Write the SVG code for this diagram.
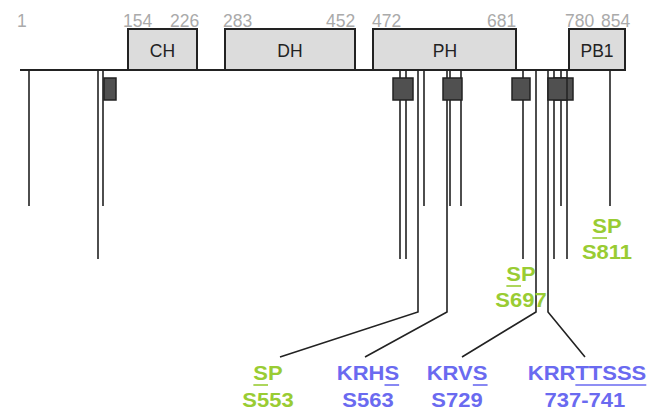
<svg xmlns="http://www.w3.org/2000/svg" width="656" height="412" viewBox="0 0 656 412">
<style>
.num{font-family:"Liberation Sans",Arial,sans-serif;font-size:17.5px;fill:#aaaaaa}
.dom{fill:#dcdcdc;stroke:#222;stroke-width:2}
.dl{font-family:"Liberation Sans",Arial,sans-serif;font-size:17.5px;fill:#222;text-anchor:middle}
.ln{stroke:#222;stroke-width:1.6;fill:none}
.sq{fill:#505050;stroke:#222;stroke-width:1.5}
.lab{font-family:"Liberation Sans",Arial,sans-serif;font-size:20px;font-weight:bold;text-anchor:middle}
.g{fill:#99cc33}
.b{fill:#6a6af0}
.ug{stroke:#99cc33;stroke-width:1.6}
.ub{stroke:#6a6af0;stroke-width:1.6}
</style>
<rect width="656" height="412" fill="#fff"/>
<g id="numbers">
<text class="num" x="17" y="27">1</text>
<text class="num" x="123" y="27">154</text>
<text class="num" x="170" y="27">226</text>
<text class="num" x="223" y="27">283</text>
<text class="num" x="326" y="27">452</text>
<text class="num" x="372" y="27">472</text>
<text class="num" x="487" y="27">681</text>
<text class="num" x="565" y="27">780</text>
<text class="num" x="601" y="27">854</text>
</g>
<g id="dom-CH"><rect class="dom" x="128" y="29" width="69" height="41"/><text class="dl" x="162.5" y="57">CH</text></g>
<g id="dom-DH"><rect class="dom" x="225" y="29" width="130" height="41"/><text class="dl" x="290" y="57">DH</text></g>
<g id="dom-PH"><rect class="dom" x="373" y="29" width="143" height="41"/><text class="dl" x="445" y="57">PH</text></g>
<g id="dom-PB1"><rect class="dom" x="569" y="29" width="56" height="41"/><text class="dl" x="597" y="57">PB1</text></g>
<g id="connectors">
<line x1="20" y1="70" x2="626" y2="70" stroke="#222" stroke-width="2.2"/>
<path class="ln" d="M29 70V206M98 70V259M103 70V206M400 70V259M406 70V259M424 70V206M450 70V206M461 70V206M523 70V259M554 70V259M561 70V206M567 70V259M610 70V206"/>
<path class="ln" d="M418 70V312L280 357M447 70V312L365 357M536 70V312L462 357M548 70V312L585 357"/>
</g>
<g id="sites">
<rect class="sq" x="104" y="78" width="12" height="22"/>
<rect class="sq" x="393" y="78" width="20" height="22"/>
<rect class="sq" x="443" y="78" width="19" height="22"/>
<rect class="sq" x="512" y="78" width="18" height="22"/>
<rect class="sq" x="554" y="78" width="19" height="22"/>
<rect class="sq" x="548" y="78" width="19" height="22"/>
</g>
<g id="lab-S811" transform="translate(607,0) scale(1.1,1)">
<text class="lab g" x="0" y="233">SP</text><line class="ug" x1="-13.3" y1="238" x2="0" y2="238"/>
<text class="lab g" x="0" y="259">S811</text>
</g>
<g id="lab-S697" transform="translate(521,0) scale(1.1,1)">
<text class="lab g" x="0" y="281">SP</text><line class="ug" x1="-13.3" y1="286" x2="0" y2="286"/>
<text class="lab g" x="0" y="307">S697</text>
</g>
<g id="lab-S553" transform="translate(268,0) scale(1.1,1)">
<text class="lab g" x="0" y="380">SP</text><line class="ug" x1="-13.3" y1="385" x2="0" y2="385"/>
<text class="lab g" x="0" y="407">S553</text>
</g>
<g id="lab-S563" transform="translate(368,0) scale(1.1,1)">
<text class="lab b" x="0" y="380">KRHS</text><line class="ub" x1="15" y1="385" x2="28.3" y2="385"/>
<text class="lab b" x="0" y="407">S563</text>
</g>
<g id="lab-S729" transform="translate(457,0) scale(1.1,1)">
<text class="lab b" x="0" y="380">KRVS</text><line class="ub" x1="14.4" y1="385" x2="27.8" y2="385"/>
<text class="lab b" x="0" y="407">S729</text>
</g>
<g id="lab-737-741" transform="translate(587,0) scale(1.1,1)">
<text class="lab b" x="0" y="380">KRRTTSSS</text><line class="ub" x1="-10.6" y1="385" x2="53.9" y2="385"/>
<text class="lab b" x="-2" y="407">737-741</text>
</g>
</svg>
